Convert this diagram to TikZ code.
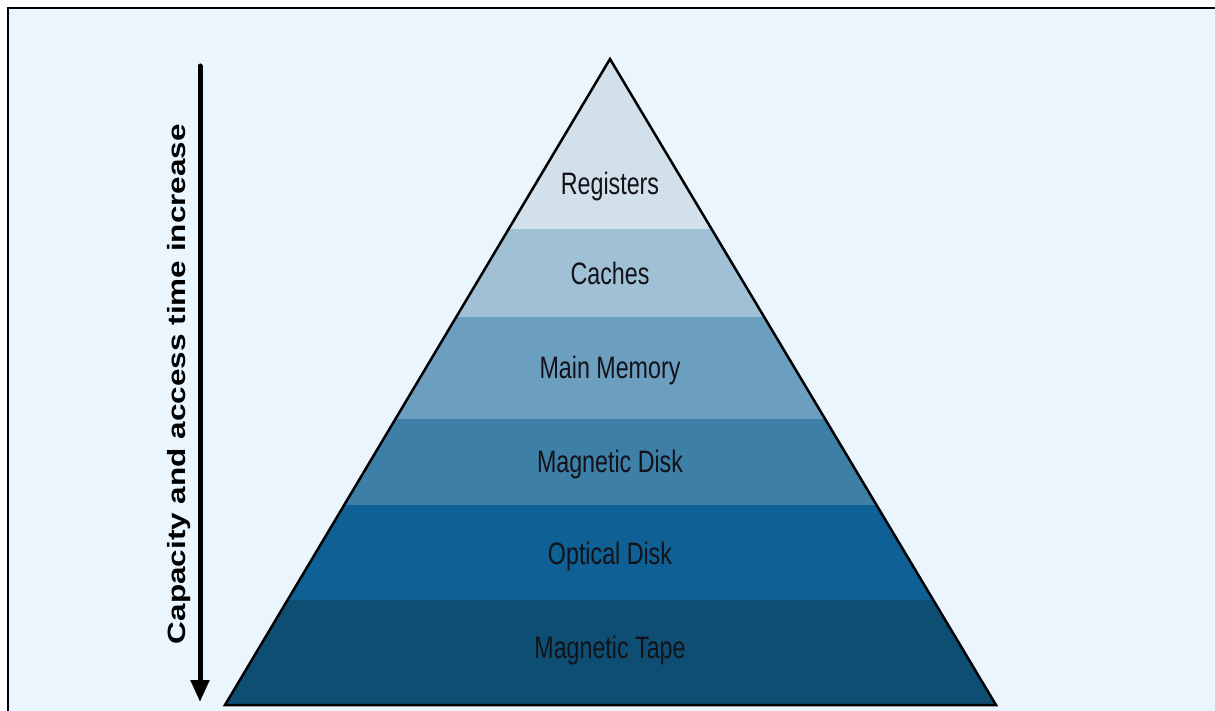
\documentclass[tikz,border=0pt]{standalone}
\usepackage{fontspec}
\setmainfont{Liberation Sans}
\newfontfamily\layerfont[FakeStretch=0.75]{Liberation Sans}
\newfontfamily\axisfont[FakeStretch=1.26]{Liberation Sans}
\usetikzlibrary{arrows.meta}

\definecolor{bgblue}{HTML}{EAF5FD}
\definecolor{regcol}{HTML}{D1E0EA}
\definecolor{cachecol}{HTML}{A0C1D5}
\definecolor{memcol}{HTML}{6C9FBF}
\definecolor{diskcol}{HTML}{3E7FA7}
\definecolor{optcol}{HTML}{0F6095}
\definecolor{tapecol}{HTML}{0F4E73}
\definecolor{labeltext}{HTML}{121218}

\tikzset{
  layerlabel/.style={font=\layerfont\fontsize{31}{31}\selectfont, text=labeltext, inner sep=0pt},
  axislabel/.style={font=\axisfont\bfseries\fontsize{25}{25}\selectfont, text=black, inner sep=0pt, rotate=90, anchor=base},
  outline/.style={line width=2.5pt, line join=miter, draw=black},
  axisarrow/.style={line width=5pt, line cap=round, -{Triangle[width=18pt,length=22pt]}},
}

\begin{document}
\begin{tikzpicture}[x=1pt,y=-1pt]
\useasboundingbox (0,0) rectangle (1215,711);
\fill[white] (0,0) rectangle (1215,711);
\fill[bgblue] (7,8) rectangle (1215,711);
\draw[line width=2pt] (7.5,711) -- (7.5,8) -- (1215,8);

% pyramid corners
\coordinate (apex) at (610,59);
\coordinate (bl) at (225,705);
\coordinate (br) at (996,705);

% storage levels, cut to the pyramid
\begin{scope}
  \clip (apex) -- (bl) -- (br) -- cycle;
  \fill[regcol]   (0,0)   rectangle (1215,229.5);
  \fill[cachecol] (0,229) rectangle (1215,317.5);
  \fill[memcol]   (0,317) rectangle (1215,419.5);
  \fill[diskcol]  (0,419) rectangle (1215,505.5);
  \fill[optcol]   (0,505) rectangle (1215,600.5);
  \fill[tapecol]  (0,600) rectangle (1215,711);
\end{scope}
\draw[outline] (apex) -- (bl) -- (br) -- cycle;

\node[layerlabel] (registers) at (610,186) {Registers};
\node[layerlabel] (caches)    at (610,273) {Caches};
\node[layerlabel] (mainmem)   at (610,370) {Main Memory};
\node[layerlabel] (magdisk)   at (610,464) {Magnetic Disk};
\node[layerlabel] (optdisk)   at (610,556) {Optical Disk};
\node[layerlabel] (magtape)   at (610,650) {Magnetic Tape};

% direction of growing capacity and access time
\coordinate (arrowtop) at (200,66);
\coordinate (arrowtip) at (200,702);
\draw[axisarrow] (arrowtop) -- (arrowtip);
\node[axislabel] (axis) at (185,384) {Capacity and access time increase};
\end{tikzpicture}
\end{document}
